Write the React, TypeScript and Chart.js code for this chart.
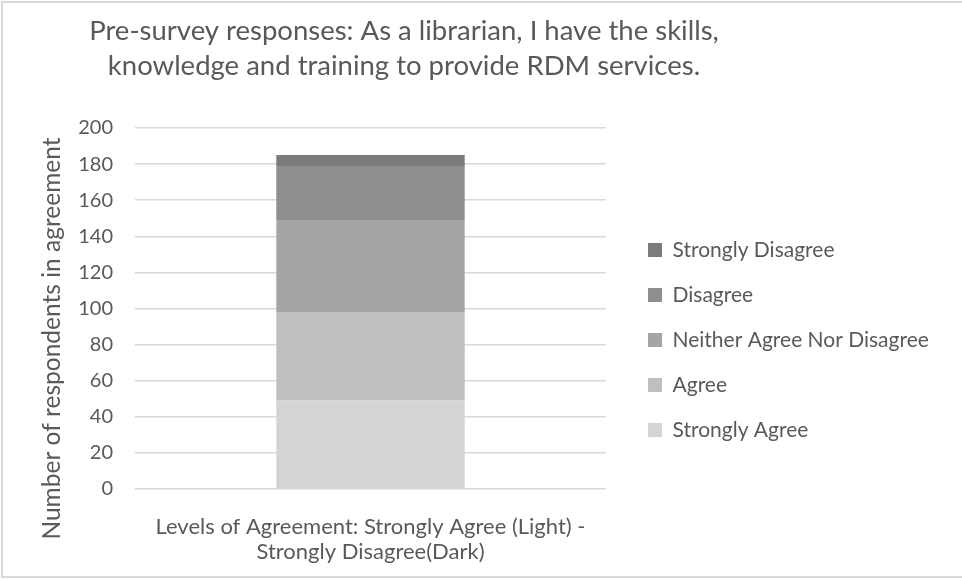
import React, { useEffect, useRef } from "react";
import { Chart, registerables } from "chart.js";

Chart.register(...registerables);

// ---- data ----
const categories = [["Levels of Agreement: Strongly Agree (Light) -", "Strongly Disagree(Dark)"]];
const seriesNames = ["Strongly Agree", "Agree", "Neither Agree Nor Disagree", "Disagree", "Strongly Disagree"];
const stronglyAgree = [49];
const agree = [49];
const neitherAgreeNorDisagree = [51];
const disagree = [30];
const stronglyDisagree = [6];
const seriesColors = ["#d4d4d4", "#bfbfbf", "#a5a5a5", "#8f8f8f", "#7b7b7b"];
const yMin = 0;
const yMax = 200;
const yStep = 20;
const titleLines = [
  "Pre-survey responses: As a librarian, I have the skills,",
  "knowledge and training to provide RDM services.",
];
const yAxisTitle = "Number of respondents in agreement";

// ---- layout ----
const W = 962;
const H = 579;
const PLOT_LEFT = 135;
const PLOT_RIGHT = 606;
const PLOT_BOTTOM = 489;
const FONT = "Lato";
const TEXT = "#595959";

const tweaks = {
  id: "tweaks",
  beforeInit(chart: any) {
    const legend = chart.legend;
    if (legend && !legend._patched) {
      const fit = legend.fit;
      legend.fit = function () {
        fit.call(this);
        this.width = W - PLOT_RIGHT;
      };
      legend._patched = true;
    }
  },
  afterLayout(chart: any) {
    const legend = chart.legend;
    if (legend) {
      legend.left = 624;
      legend.right = W;
      legend.top = 215.5;
      legend.bottom = legend.top + 260;
    }
    const t = chart.titleBlock;
    if (t) {
      t.left -= 77;
      t.right -= 77;
    }
    const y = chart.scales.y;
    if (y && !y._titlePatched) {
      const orig = y.drawTitle;
      y.drawTitle = function (...args: any[]) {
        const top = this.top;
        this.top = top + 60;
        orig.apply(this, args);
        this.top = top;
      };
      y._titlePatched = true;
    }
  },
  beforeDraw(chart: any) {
    const ctx = chart.ctx;
    ctx.save();
    ctx.strokeStyle = "#d9d9d9";
    ctx.lineWidth = 2;
    ctx.strokeRect(2, 2, W + 10, H - 4);
    ctx.restore();
  },
};

export default function App() {
  const ref = useRef<HTMLCanvasElement | null>(null);

  useEffect(() => {
    if (!ref.current) return;
    const values = [stronglyAgree, agree, neitherAgreeNorDisagree, disagree, stronglyDisagree];
    const chart = new Chart(ref.current, {
      type: "bar",
      data: {
        labels: categories as any,
        datasets: seriesNames.map((name, i) => ({
          label: name,
          data: values[i],
          backgroundColor: seriesColors[i],
          borderWidth: 0,
          categoryPercentage: 1,
          barPercentage: 0.4,
        })),
      },
      options: {
        responsive: false,
        animation: false,
        devicePixelRatio: 1,
        layout: { padding: 0 },
        plugins: {
          title: {
            display: true,
            text: titleLines,
            color: TEXT,
            font: { family: FONT, size: 27.5, weight: "normal", lineHeight: "35px" as any },
            padding: { top: 13.5, bottom: 44.5 },
          },
          legend: {
            position: "right",
            align: "start",
            reverse: true,
            labels: {
              boxWidth: 14,
              boxHeight: 14,
              padding: 24,
              color: TEXT,
              font: { family: FONT, size: 21 },
            },
          },
          tooltip: { enabled: false },
        },
        scales: {
          x: {
            stacked: true,
            grid: { display: false },
            border: { display: false },
            ticks: {
              color: TEXT,
              font: { family: FONT, size: 22, lineHeight: 1.15 },
              padding: 17,
              maxRotation: 0,
              autoSkip: false,
            },
            afterFit(scale: any) {
              scale.height = H - PLOT_BOTTOM;
            },
          },
          y: {
            stacked: true,
            min: yMin,
            max: yMax,
            grid: { color: "#d9d9d9", lineWidth: 1.5, drawTicks: false },
            border: { display: false },
            ticks: {
              stepSize: yStep,
              color: TEXT,
              font: { family: FONT, size: 20 },
              padding: 22,
            },
            title: {
              display: true,
              text: yAxisTitle,
              color: TEXT,
              font: { family: FONT, size: 24.5, lineHeight: 1.2 },
              padding: { top: 37, bottom: 0 },
            },
            afterFit(scale: any) {
              scale.width = PLOT_LEFT;
            },
          },
        },
      },
      plugins: [tweaks],
    });
    return () => chart.destroy();
  }, []);

  return (
    <div style={{ position: "absolute", left: 0, top: 0, width: W, height: H, background: "#fff" }}>
      <canvas ref={ref} width={W} height={H} style={{ display: "block", width: W, height: H }} />
    </div>
  );
}
